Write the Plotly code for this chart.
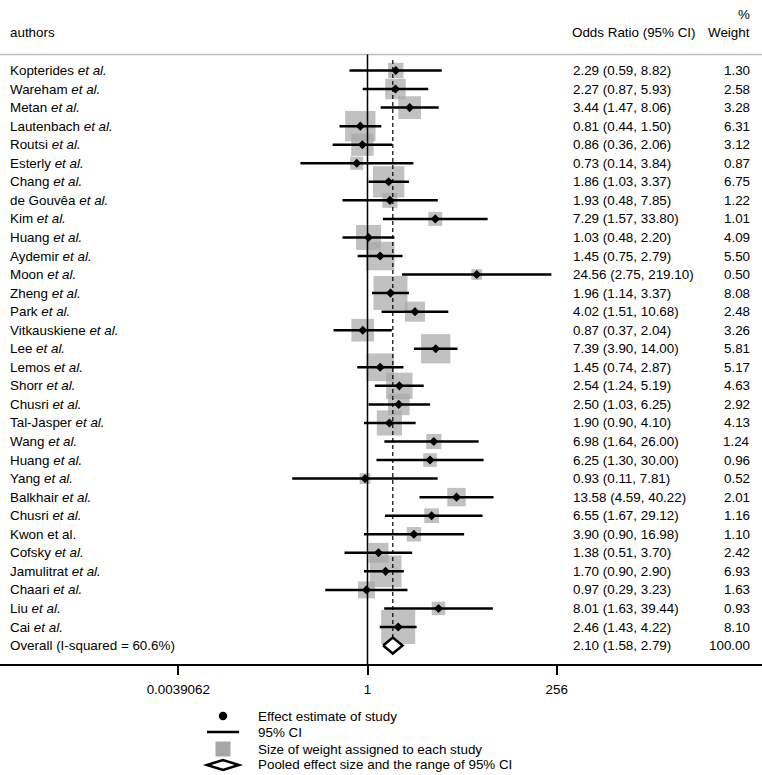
import numpy as np
import plotly.graph_objects as go

# ---------------- data ----------------
authors = [
    "Kopterides <i>et al.</i>", "Wareham <i>et al.</i>", "Metan <i>et al.</i>",
    "Lautenbach <i>et al.</i>", "Routsi <i>et al.</i>", "Esterly <i>et al.</i>",
    "Chang <i>et al.</i>", "de Gouvêa <i>et al.</i>", "Kim <i>et al.</i>",
    "Huang <i>et al.</i>", "Aydemir <i>et al.</i>", "Moon <i>et al.</i>",
    "Zheng <i>et al.</i>", "Park <i>et al.</i>", "Vitkauskiene <i>et al.</i>",
    "Lee <i>et al.</i>", "Lemos <i>et al.</i>", "Shorr <i>et al.</i>",
    "Chusri <i>et al.</i>", "Tal-Jasper <i>et al.</i>", "Wang <i>et al.</i>",
    "Huang <i>et al.</i>", "Yang <i>et al.</i>", "Balkhair <i>et al.</i>",
    "Chusri <i>et al.</i>", "Kwon et al.", "Cofsky <i>et al.</i>",
    "Jamulitrat <i>et al.</i>", "Chaari <i>et al.</i>", "Liu <i>et al.</i>",
    "Cai <i>et al.</i>",
]
odds_ratio = [2.29, 2.27, 3.44, 0.81, 0.86, 0.73, 1.86, 1.93, 7.29, 1.03, 1.45,
              24.56, 1.96, 4.02, 0.87, 7.39, 1.45, 2.54, 2.50, 1.90, 6.98, 6.25,
              0.93, 13.58, 6.55, 3.90, 1.38, 1.70, 0.97, 8.01, 2.46]
ci_lower = [0.59, 0.87, 1.47, 0.44, 0.36, 0.14, 1.03, 0.48, 1.57, 0.48, 0.75,
            2.75, 1.14, 1.51, 0.37, 3.90, 0.74, 1.24, 1.03, 0.90, 1.64, 1.30,
            0.11, 4.59, 1.67, 0.90, 0.51, 0.90, 0.29, 1.63, 1.43]
ci_upper = [8.82, 5.93, 8.06, 1.50, 2.06, 3.84, 3.37, 7.85, 33.80, 2.20, 2.79,
            219.10, 3.37, 10.68, 2.04, 14.00, 2.87, 5.19, 6.25, 4.10, 26.00, 30.00,
            7.81, 40.22, 29.12, 16.98, 3.70, 2.90, 3.23, 39.44, 4.22]
weight = [1.30, 2.58, 3.28, 6.31, 3.12, 0.87, 6.75, 1.22, 1.01, 4.09, 5.50,
          0.50, 8.08, 2.48, 3.26, 5.81, 5.17, 4.63, 2.92, 4.13, 1.24, 0.96,
          0.52, 2.01, 1.16, 1.10, 2.42, 6.93, 1.63, 0.93, 8.10]
overall_label = "Overall (I-squared = 60.6%)"
overall_or, overall_lo, overall_hi, overall_w = 2.10, 1.58, 2.79, 100.00
tick_vals = [2 ** -8, 1, 2 ** 8]
tick_text = ["0.0039062", "1", "256"]
legend_labels = ["Effect estimate of study", "95% CI",
                 "Size of weight assigned to each study",
                 "Pooled effect size and the range of 95% CI"]

# ---------------- geometry ----------------
W, H = 762, 775
PLOT_H = 664               # plot area from pixel 0 to 664
ROW0, ROWH = 70.5, 18.55   # pixel centre of first row, row spacing
X1PX, PX_PER_LOG2 = 367.5, 23.65

def row_of(py):
    return (py - ROW0) / ROWH

def px(x):
    return x / W

def py(y):
    return (PLOT_H - y) / PLOT_H

x_lo_log10 = (0 - X1PX) / PX_PER_LOG2 * np.log10(2)
x_hi_log10 = (W - X1PX) / PX_PER_LOG2 * np.log10(2)
y_top = row_of(0)
y_bot = row_of(PLOT_H)

n = len(authors)
rows = list(range(n))
overall_row = n

FONT = "Liberation Sans, Arial, Helvetica, sans-serif"
FS = 13.4
GRAY = "#a6a6a6"

fig = go.Figure()

# weight boxes
box_sizes = [10.9 * np.sqrt(w) + 3 for w in weight]
fig.add_trace(go.Scatter(
    x=odds_ratio, y=rows, mode="markers",
    marker=dict(symbol="square", size=box_sizes, color=GRAY, line=dict(width=0)),
    hoverinfo="skip", showlegend=False))

# CI lines
cx, cy = [], []
for lo, hi, r in zip(ci_lower, ci_upper, rows):
    cx += [lo, hi, None]
    cy += [r, r, None]
fig.add_trace(go.Scatter(x=cx, y=cy, mode="lines",
                         line=dict(color="black", width=2.5),
                         hoverinfo="skip", showlegend=False))

# point estimates
fig.add_trace(go.Scatter(
    x=odds_ratio, y=rows, mode="markers",
    marker=dict(symbol="diamond", size=7, color="black"),
    hoverinfo="skip", showlegend=False))

# overall diamond
dh = 0.43
fig.add_trace(go.Scatter(
    x=[overall_lo, overall_or, overall_hi, overall_or, overall_lo],
    y=[overall_row, overall_row - dh, overall_row, overall_row + dh, overall_row],
    mode="lines", fill="toself", fillcolor="white",
    line=dict(color="black", width=2.5),
    hoverinfo="skip", showlegend=False))

shapes = []
# header line
shapes.append(dict(type="line", xref="paper", yref="y", x0=0, x1=1,
                   y0=row_of(54.5), y1=row_of(54.5),
                   line=dict(color="#bdbdbd", width=1.5)))
# null line
shapes.append(dict(type="line", xref="x", yref="y", x0=1, x1=1,
                   y0=row_of(54.5), y1=y_bot, layer="above",
                   line=dict(color="black", width=1.5)))
# overall dashed line
shapes.append(dict(type="line", xref="x", yref="y", x0=overall_or, x1=overall_or,
                   y0=row_of(60), y1=overall_row - dh, layer="above",
                   line=dict(color="black", width=1.2, dash="4px,3px")))

# legend key (custom)
lg_y = [716, 732, 749, 765]
cxk = 223
shapes.append(dict(type="circle", xref="paper", yref="paper",
                   x0=px(cxk - 4.2), x1=px(cxk + 4.2),
                   y0=py(lg_y[0] + 4.2), y1=py(lg_y[0] - 4.2),
                   fillcolor="black", line=dict(color="black", width=0)))
shapes.append(dict(type="line", xref="paper", yref="paper",
                   x0=px(207), x1=px(239), y0=py(lg_y[1]), y1=py(lg_y[1]),
                   line=dict(color="black", width=2.5)))
shapes.append(dict(type="rect", xref="paper", yref="paper",
                   x0=px(cxk - 7.5), x1=px(cxk + 7.5),
                   y0=py(lg_y[2] + 7.5), y1=py(lg_y[2] - 7.5),
                   fillcolor=GRAY, line=dict(width=0)))
dpath = "M {},{} L {},{} L {},{} L {},{} Z".format(
    px(207), py(lg_y[3]), px(cxk), py(lg_y[3] - 5),
    px(239), py(lg_y[3]), px(cxk), py(lg_y[3] + 5))
shapes.append(dict(type="path", xref="paper", yref="paper", path=dpath,
                   fillcolor="white", line=dict(color="black", width=2.5)))

annotations = []
def ann(text, x, y, xanchor="left", yref="y", xref="paper"):
    annotations.append(dict(text=text, x=x, y=y, xref=xref, yref=yref,
                            xanchor=xanchor, yanchor="middle", showarrow=False,
                            font=dict(family=FONT, size=FS, color="black")))

# headers
ann("authors", px(8), row_of(32))
ann("Odds Ratio (95% CI)", px(570), row_of(32))
ann("%", px(752), row_of(14), xanchor="right")
ann("Weight", px(752), row_of(32), xanchor="right")

all_labels = authors + [overall_label]
all_or = odds_ratio + [overall_or]
all_lo = ci_lower + [overall_lo]
all_hi = ci_upper + [overall_hi]
all_w = weight + [overall_w]
for i, (lab, e, lo, hi, w) in enumerate(zip(all_labels, all_or, all_lo, all_hi, all_w)):
    ann(lab, px(8), i)
    ann(f"{e:.2f} ({lo:.2f}, {hi:.2f})", px(571), i)
    ann(f"{w:.2f}", px(752), i, xanchor="right")

for lab, yy in zip(legend_labels, lg_y):
    ann(lab, px(256), py(yy), yref="paper")

fig.update_layout(
    width=W, height=H,
    margin=dict(l=0, r=0, t=0, b=H - PLOT_H),
    paper_bgcolor="white", plot_bgcolor="white",
    showlegend=False,
    shapes=shapes, annotations=annotations,
    font=dict(family=FONT, size=FS, color="black"),
    xaxis=dict(type="log", range=[x_lo_log10, x_hi_log10],
               tickvals=tick_vals, ticktext=tick_text,
               ticks="outside", ticklen=9, tickwidth=1.5, tickcolor="black",
               ticklabelstandoff=3,
               showline=True, linecolor="black", linewidth=1.5,
               showgrid=False, zeroline=False,
               tickfont=dict(family=FONT, size=FS, color="black"),
               fixedrange=True),
    yaxis=dict(range=[y_bot, y_top], visible=False, showgrid=False,
               zeroline=False, fixedrange=True),
)

fig.write_html("out.html",
               config={"displayModeBar": False},
               post_script="document.body.style.margin='0';"
                           "document.body.style.overflow='hidden';")
